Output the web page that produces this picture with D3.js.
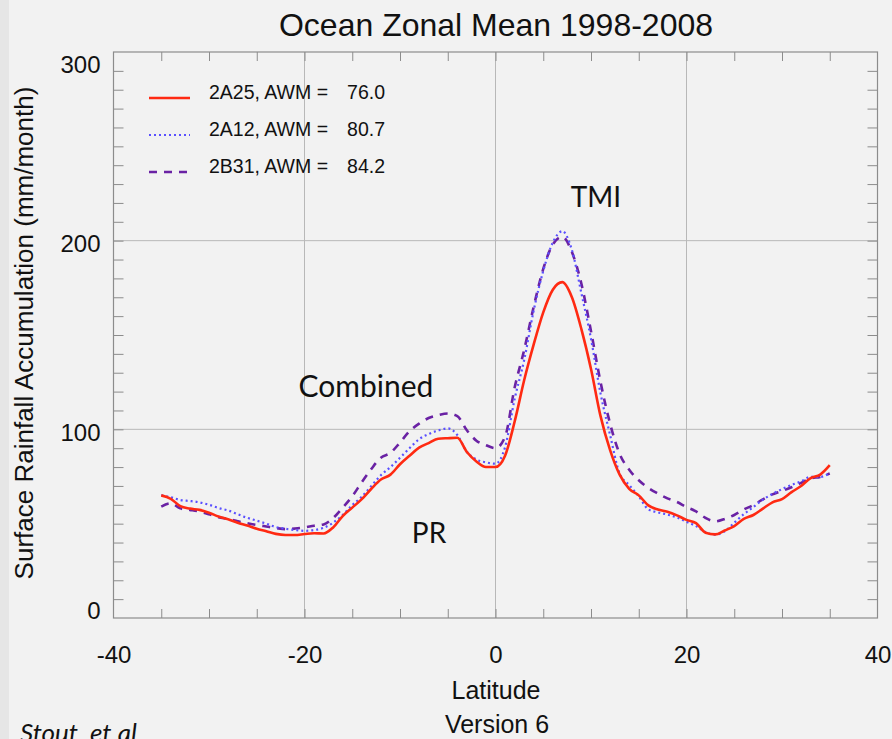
<!DOCTYPE html>
<html>
<head>
<meta charset="utf-8">
<script src="https://cdn.jsdelivr.net/npm/d3@7"></script>
<style>
  body { margin: 0; background: #f2f2f2; }
  svg { display: block; }
</style>
</head>
<body>
<svg width="892" height="739"></svg>
<script>
// Latitude bins (deg)
const latitudes = [-35,-34,-33,-32,-31,-30,-29,-28,-27,-26,-25,-24,-23,-22,-21,-20,-19,-18,-17,-16,-15,-14,-13,-12,-11,-10,-9,-8,-7,-6,-5,-4,-3,-2,-1,0,
  1,2,3,4,5,6,7,8,9,10,11,12,13,14,15,16,17,18,19,20,21,22,23,24,25,26,27,28,29,30,31,32,33,34,35];

// 2A25 (PR)
const pr2A25 = [65,63.2,59.3,58,57.3,55.8,53.8,52.3,50.5,49,47.3,46,44.6,44,44,44.5,44.9,44.8,48,54,58.5,63,68.5,73.4,76,81.5,86,90.3,92.7,95,95.3,95.5,88,83,80,80,
  86,104,126,145,162,174,178,170,153,132,107,89,76,68.5,65,59.7,57.5,56.3,54.4,52,50.3,45.2,44.3,46.4,48.7,52.5,54.6,58,61.3,63,66.7,70,74.2,76,81];

// 2A12 (TMI)
const tmi2A12 = [65,64,62.5,62,61.3,60,58.3,57,55,53.1,51.6,50,48.2,47.3,46.6,46.2,46.6,47.8,50.5,54.6,59.8,64.3,70,75.7,80,84.9,90,94.8,97.5,99.4,100.5,97,88.1,84,82.5,81.8,
  90.5,116,136.7,163,184,199,205,195,172,148,119,97,76.5,70.5,64.5,57.6,56,54.8,53.3,51,48.7,45.5,44.2,46,50.5,55,58.8,62.7,65.8,68.3,70.5,72.4,74.8,74.8,76.8];

// 2B31 (Combined)
const comb2B31 = [59,60.8,58.1,57.3,56.4,55,53.4,52.5,51.3,50.2,49.3,48.5,47.7,47.1,47.4,48,48.9,49.6,53,58.5,64.5,72,79,85,87.5,93,99,103,106,107.5,108.4,107,99.5,94,91.6,90,
  96,122,142,165,185,198,202,194,177,152,125,103,87,78.6,73,69,66,63.4,61.5,58.8,56.5,53,51.2,52.5,54.6,57.5,59.9,62.9,65.5,67.3,69.3,71.6,74,74.8,76.6];

const seriesNames = ["2A25", "2A12", "2B31"];
const seriesAWM = ["76.0", "80.7", "84.2"];

const xTicks = [-40, -20, 0, 20, 40];
const yTicks = [0, 100, 200, 300];

const svg = d3.select("svg");
const fontMain = "'Liberation Sans', Arial, Helvetica, sans-serif";
const fontNote = "Lato, 'Open Sans', sans-serif";

// left darker strip of the slide
svg.append("rect").attr("x", 0).attr("y", 0).attr("width", 9).attr("height", 739).attr("fill", "#e6e6e6");

const x = d3.scaleLinear().domain([-40, 40]).range([113.5, 877.5]);
const y = d3.scaleLinear().domain([0, 300]).range([618, 52]);

// grid lines
const grid = svg.append("g").attr("stroke", "#b8b8b8").attr("stroke-width", 1);
[-20, 0, 20].forEach(v => {
    grid.append("line").attr("x1", x(v)).attr("x2", x(v)).attr("y1", y(0)).attr("y2", y(300));
});
[100, 200].forEach(v => {
    grid.append("line").attr("x1", x(-40)).attr("x2", x(40)).attr("y1", y(v)).attr("y2", y(v));
});

// minor ticks on all four sides
function minorAxis(axis, transform) {
    const g = svg.append("g").attr("transform", transform).call(axis);
    g.select(".domain").remove();
    g.selectAll("line").attr("stroke", "#8c8c8c");
    g.selectAll("text").remove();
}
minorAxis(d3.axisBottom(x).tickValues(d3.range(-35, 40, 5)).tickSize(-9), `translate(0,${y(0)})`);
minorAxis(d3.axisTop(x).tickValues(d3.range(-35, 40, 5)).tickSize(-9), `translate(0,${y(300)})`);
minorAxis(d3.axisLeft(y).tickValues(d3.range(10, 300, 10)).tickSize(-10), `translate(${x(-40)},0)`);
minorAxis(d3.axisRight(y).tickValues(d3.range(10, 300, 10)).tickSize(-10), `translate(${x(40)},0)`);

// frame
svg.append("rect")
    .attr("x", x(-40)).attr("y", y(300))
    .attr("width", x(40) - x(-40)).attr("height", y(0) - y(300))
    .attr("fill", "none").attr("stroke", "#8c8c8c").attr("stroke-width", 1.2);

// tick labels (plain hyphen for negatives, like the original)
const xAxis = svg.append("g")
    .attr("transform", `translate(0,${y(0)})`)
    .call(d3.axisBottom(x).tickValues(xTicks).tickSize(0).tickPadding(28).tickFormat(d => String(d)));
xAxis.select(".domain").remove();
xAxis.selectAll("text").attr("font-family", fontMain).attr("font-size", 24).attr("fill", "#111");

const yAxis = svg.append("g")
    .attr("transform", `translate(${x(-40)},0)`)
    .call(d3.axisLeft(y).tickValues(yTicks).tickSize(0).tickPadding(13).tickFormat(d => String(d)));
yAxis.select(".domain").remove();
// end labels are pulled inside the frame
yAxis.selectAll("text").attr("font-family", fontMain).attr("font-size", 24).attr("fill", "#111")
    .attr("dy", d => d === 300 ? "0.85em" : d === 0 ? "0" : "0.45em");

// title & axis titles
svg.append("text").attr("x", 496).attr("y", 36).attr("text-anchor", "middle")
    .attr("font-family", fontMain).attr("font-size", 32).attr("fill", "#111")
    .text("Ocean Zonal Mean 1998-2008");
svg.append("text").attr("x", 496).attr("y", 699).attr("text-anchor", "middle")
    .attr("font-family", fontMain).attr("font-size", 25).attr("fill", "#111")
    .text("Latitude");
svg.append("text").attr("x", 497).attr("y", 733).attr("text-anchor", "middle")
    .attr("font-family", fontMain).attr("font-size", 25).attr("fill", "#111")
    .text("Version 6");
svg.append("text").attr("transform", "translate(33,333) rotate(-90)").attr("text-anchor", "middle")
    .attr("font-family", fontMain).attr("font-size", 26).attr("fill", "#111")
    .text("Surface Rainfall Accumulation (mm/month)");

// series
const styles = [
    { data: pr2A25, color: "#ff2a12", width: 2.6, dash: null },
    { data: tmi2A12, color: "#5a50ff", width: 2.2, dash: "2,3" },
    { data: comb2B31, color: "#6a22a4", width: 2.6, dash: "8,7" }
];

const line = d3.line()
    .x((d, i) => x(latitudes[i]))
    .y(d => y(d))
    .curve(d3.curveMonotoneX);

// draw combined and TMI first, PR on top
[2, 1, 0].forEach(k => {
    const s = styles[k];
    svg.append("path")
        .datum(s.data)
        .attr("fill", "none")
        .attr("stroke", s.color)
        .attr("stroke-width", s.width)
        .attr("stroke-dasharray", s.dash)
        .attr("d", line);
});

// legend
const legend = svg.append("g").attr("font-family", fontMain).attr("font-size", 19.5).attr("fill", "#111");
styles.forEach((s, i) => {
    const ly = 92 + i * 37;
    legend.append("line")
        .attr("x1", 149).attr("x2", 190).attr("y1", ly + 6).attr("y2", ly + 6)
        .attr("stroke", s.color).attr("stroke-width", s.width).attr("stroke-dasharray", s.dash);
    legend.append("text").attr("x", 209).attr("y", ly).attr("dy", "0.35em")
        .text(`${seriesNames[i]}, AWM =`);
    legend.append("text").attr("x", 385).attr("y", ly).attr("dy", "0.35em").attr("text-anchor", "end")
        .text(seriesAWM[i]);
});

// annotations
const notes = svg.append("g").attr("font-family", fontNote).attr("font-size", 28).attr("fill", "#111");
notes.append("text").attr("x", 596).attr("y", 207).attr("text-anchor", "middle").text("TMI");
notes.append("text").attr("x", 366).attr("y", 397).attr("text-anchor", "middle").attr("font-size", 30).text("Combined");
notes.append("text").attr("x", 429).attr("y", 543).attr("text-anchor", "middle").text("PR");

svg.append("text").attr("x", 20).attr("y", 742)
    .attr("font-family", fontNote).attr("font-size", 26).attr("font-style", "italic").attr("fill", "#111")
    .text("Stout, et al");
</script>
</body>
</html>
